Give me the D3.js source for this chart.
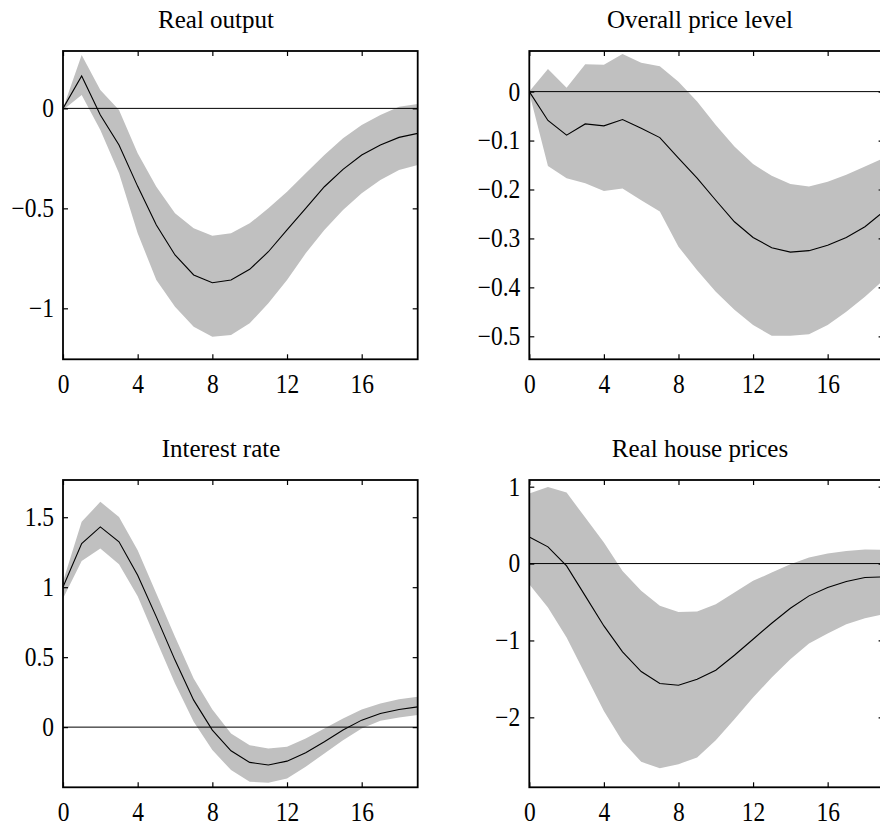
<!DOCTYPE html>
<html>
<head>
<meta charset="utf-8">
<script src="https://cdn.jsdelivr.net/npm/d3@7"></script>
<style>
  body { margin: 0; background: #fff; }
  text { font-family: "Liberation Serif", "Times New Roman", serif; fill: #000; }
</style>
</head>
<body>
<div class="canvas"></div>
<script>
// horizons (quarters)
const horizons = d3.range(0, 20);
const xTicks = [0, 4, 8, 12, 16];

// Real output
const outputMed = [0, 0.162, -0.033, -0.183, -0.39, -0.583, -0.733, -0.833, -0.872, -0.858,
  -0.805, -0.717, -0.608, -0.5, -0.392, -0.305, -0.233, -0.183, -0.145, -0.125];
const outputHi = [0, 0.267, 0.092, -0.008, -0.225, -0.392, -0.525, -0.6, -0.637, -0.625,
  -0.575, -0.5, -0.417, -0.325, -0.233, -0.15, -0.083, -0.033, 0.008, 0.022];
const outputLo = [-0.008, 0.067, -0.108, -0.325, -0.625, -0.858, -0.992, -1.092, -1.142, -1.133,
  -1.075, -0.975, -0.858, -0.725, -0.608, -0.508, -0.425, -0.358, -0.308, -0.283];
const outputTicks = [0, -0.5, -1];

// Overall price level
const priceMed = [0, -0.059, -0.089, -0.066, -0.070, -0.057, -0.075, -0.094, -0.136, -0.177,
  -0.222, -0.266, -0.298, -0.319, -0.328, -0.325, -0.314, -0.298, -0.276, -0.245];
const priceHi = [0, 0.046, 0.008, 0.056, 0.055, 0.077, 0.059, 0.052, 0.020, -0.020,
  -0.068, -0.112, -0.148, -0.172, -0.189, -0.194, -0.184, -0.170, -0.153, -0.136];
const priceLo = [-0.003, -0.152, -0.177, -0.187, -0.203, -0.198, -0.222, -0.245, -0.317, -0.365,
  -0.409, -0.446, -0.477, -0.499, -0.499, -0.496, -0.477, -0.450, -0.419, -0.385];
const priceTicks = [0, -0.1, -0.2, -0.3, -0.4, -0.5];

// Interest rate
const rateMed = [1.002, 1.312, 1.431, 1.324, 1.086, 0.788, 0.479, 0.193, -0.021, -0.169,
  -0.252, -0.271, -0.243, -0.183, -0.105, -0.021, 0.05, 0.098, 0.126, 0.145];
const rateHi = [1.04, 1.467, 1.61, 1.502, 1.264, 0.955, 0.645, 0.348, 0.126, -0.045,
  -0.129, -0.152, -0.140, -0.081, -0.010, 0.062, 0.126, 0.169, 0.2, 0.217];
const rateLo = [0.919, 1.188, 1.276, 1.164, 0.936, 0.621, 0.312, 0.038, -0.164, -0.307,
  -0.390, -0.398, -0.367, -0.283, -0.188, -0.093, -0.010, 0.045, 0.069, 0.086];
const rateTicks = [1.5, 1, 0.5, 0];

// Real house prices
const houseMed = [0.347, 0.217, -0.030, -0.420, -0.811, -1.149, -1.404, -1.560, -1.582, -1.504,
  -1.387, -1.192, -0.984, -0.776, -0.581, -0.420, -0.312, -0.234, -0.182, -0.173];
const houseHi = [0.910, 0.997, 0.923, 0.598, 0.273, -0.095, -0.355, -0.550, -0.629, -0.624,
  -0.529, -0.377, -0.225, -0.117, -0.009, 0.078, 0.130, 0.165, 0.182, 0.178];
const houseLo = [-0.269, -0.572, -0.962, -1.439, -1.916, -2.315, -2.579, -2.661, -2.609, -2.523,
  -2.297, -2.024, -1.742, -1.482, -1.244, -1.040, -0.910, -0.789, -0.711, -0.659];
const houseTicks = [1, 0, -1, -2];

const titles = ['Real output', 'Overall price level', 'Interest rate', 'Real house prices'];

const panels = [
  { title: titles[0], med: outputMed, lo: outputLo, hi: outputHi, ticks: outputTicks, y: [-1.255, 0.287],
    box: { x0: 63, x1: 417.7, y0: 51, y1: 359.3 }, titleX: 216 },
  { title: titles[1], med: priceMed, lo: priceLo, hi: priceHi, ticks: priceTicks, y: [-0.547, 0.083],
    box: { x0: 529.3, x1: 883.6, y0: 51, y1: 359.3 }, titleX: 700 },
  { title: titles[2], med: rateMed, lo: rateLo, hi: rateHi, ticks: rateTicks, y: [-0.43, 1.766],
    box: { x0: 63, x1: 417.7, y0: 480, y1: 787.3 }, titleX: 221 },
  { title: titles[3], med: houseMed, lo: houseLo, hi: houseHi, ticks: houseTicks, y: [-2.91, 1.087],
    box: { x0: 529.3, x1: 883.6, y0: 480, y1: 787.3 }, titleX: 700 }
];

const svg = d3.select('.canvas')
  .append('svg')
  .attr('width', 880)
  .attr('height', 827);

const fmt = v => (v < 0 ? '\u2212' : '') + d3.format('')(Math.abs(v));

panels.forEach(p => {
  const x = d3.scaleLinear().domain([0, 19]).range([p.box.x0, p.box.x1]);
  const y = d3.scaleLinear().domain(p.y).range([p.box.y1, p.box.y0]);
  const g = svg.append('g');

  // confidence band
  const band = d3.area()
    .x((d, i) => x(horizons[i]))
    .y0((d, i) => y(p.lo[i]))
    .y1((d, i) => y(p.hi[i]));
  g.append('path')
    .datum(p.med)
    .attr('d', band)
    .attr('fill', '#c0c0c0');

  // zero line
  g.append('line')
    .attr('x1', x(0)).attr('x2', x(19))
    .attr('y1', y(0)).attr('y2', y(0))
    .attr('stroke', '#000').attr('stroke-width', 1);

  // median response
  const line = d3.line()
    .x((d, i) => x(horizons[i]))
    .y(d => y(d));
  g.append('path')
    .datum(p.med)
    .attr('d', line)
    .attr('fill', 'none')
    .attr('stroke', '#000')
    .attr('stroke-width', 1.1);

  // axes, ticks inward on all sides
  const tl = 5;
  g.append('g')
    .attr('transform', `translate(0,${p.box.y1})`)
    .call(d3.axisBottom(x).tickValues(xTicks).tickSize(-tl).tickPadding(13).tickFormat(d3.format('d')))
    .call(a => a.select('.domain').remove());
  g.append('g')
    .attr('transform', `translate(0,${p.box.y0})`)
    .call(d3.axisTop(x).tickValues(xTicks).tickSize(-tl).tickFormat(''))
    .call(a => a.select('.domain').remove());
  g.append('g')
    .attr('transform', `translate(${p.box.x0},0)`)
    .call(d3.axisLeft(y).tickValues(p.ticks).tickSize(-tl).tickPadding(9).tickFormat(fmt))
    .call(a => a.select('.domain').remove());
  g.append('g')
    .attr('transform', `translate(${p.box.x1},0)`)
    .call(d3.axisRight(y).tickValues(p.ticks).tickSize(-tl).tickFormat(''))
    .call(a => a.select('.domain').remove());

  g.selectAll('.tick line').attr('stroke', '#000').attr('stroke-width', 1.2);
  g.selectAll('.tick text')
    .attr('transform', 'scale(1,1.12)')
    .style('font-family', '"Liberation Serif", "Times New Roman", serif')
    .style('font-size', '23.5px');

  g.append('rect')
    .attr('x', p.box.x0).attr('y', p.box.y0)
    .attr('width', p.box.x1 - p.box.x0)
    .attr('height', p.box.y1 - p.box.y0)
    .attr('fill', 'none')
    .attr('stroke', '#000')
    .attr('stroke-width', 1.8);

  svg.append('text')
    .attr('x', p.titleX)
    .attr('y', p.box.y0 - 23)
    .attr('text-anchor', 'middle')
    .style('font-size', '25px')
    .text(p.title);
});
</script>
</body>
</html>
